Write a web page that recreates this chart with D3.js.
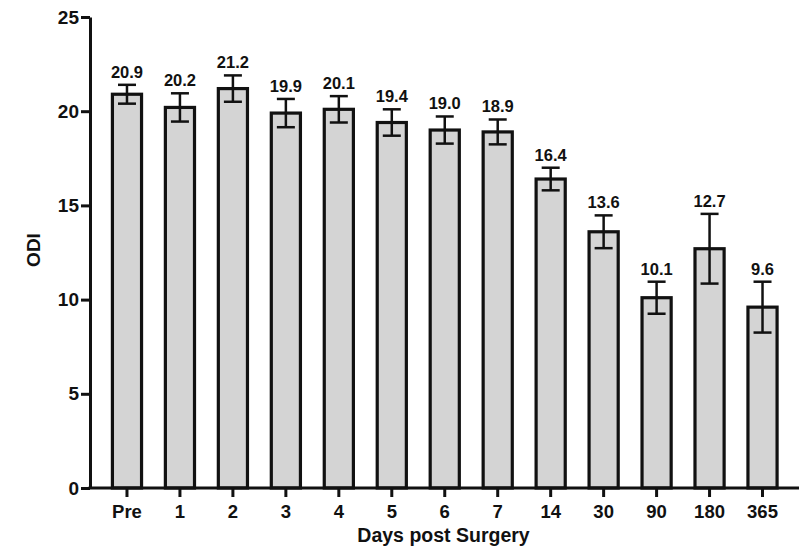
<!DOCTYPE html>
<html>
<head>
<meta charset="utf-8">
<script src="https://cdn.jsdelivr.net/npm/d3@7"></script>
<style>
  body { margin: 0; background: #fff; }
  text { font-family: "Liberation Sans", Arial, sans-serif; font-weight: bold; fill: #111; }
</style>
</head>
<body>
<div id="chart"></div>
<script>
// ODI by day after surgery, mean with error bars
var days = ["Pre", "1", "2", "3", "4", "5", "6", "7", "14", "30", "90", "180", "365"];
var odi = [20.9, 20.2, 21.2, 19.9, 20.1, 19.4, 19.0, 18.9, 16.4, 13.6, 10.1, 12.7, 9.6];
var err = [0.5, 0.75, 0.7, 0.75, 0.7, 0.7, 0.72, 0.66, 0.6, 0.87, 0.85, 1.85, 1.35];
var yTicks = [0, 5, 10, 15, 20, 25];

var svgWidth = 803;
var svgHeight = 553;

var svg = d3.select("#chart")
  .append("svg")
  .attr("width", svgWidth)
  .attr("height", svgHeight);

var data = days.map(function (d, i) {
  return { day: d, val: odi[i], err: err[i] };
});

var xScale = d3.scaleBand()
  .domain(days)
  .range([100.5, 789])
  .paddingInner(0.45)
  .paddingOuter(0.225);

var yScale = d3.scaleLinear()
  .domain([0, 25])
  .range([488, 17]);

// bars
svg.selectAll(".bar")
  .data(data)
  .enter()
  .append("rect")
  .attr("class", "bar")
  .attr("x", d => xScale(d.day))
  .attr("y", d => yScale(d.val))
  .attr("width", xScale.bandwidth())
  .attr("height", d => yScale(0) - yScale(d.val))
  .attr("fill", "#d4d4d4")
  .attr("stroke", "#111")
  .attr("stroke-width", 3.2);

// error bars
var cap = 9;
var eb = svg.selectAll(".err")
  .data(data)
  .enter()
  .append("g")
  .attr("class", "err")
  .attr("stroke", "#111")
  .attr("stroke-width", 2.5);

eb.append("line")
  .attr("x1", d => xScale(d.day) + xScale.bandwidth() / 2)
  .attr("x2", d => xScale(d.day) + xScale.bandwidth() / 2)
  .attr("y1", d => yScale(d.val - d.err))
  .attr("y2", d => yScale(d.val + d.err));
eb.append("line")
  .attr("x1", d => xScale(d.day) + xScale.bandwidth() / 2 - cap)
  .attr("x2", d => xScale(d.day) + xScale.bandwidth() / 2 + cap)
  .attr("y1", d => yScale(d.val + d.err))
  .attr("y2", d => yScale(d.val + d.err));
eb.append("line")
  .attr("x1", d => xScale(d.day) + xScale.bandwidth() / 2 - cap)
  .attr("x2", d => xScale(d.day) + xScale.bandwidth() / 2 + cap)
  .attr("y1", d => yScale(d.val - d.err))
  .attr("y2", d => yScale(d.val - d.err));

// value labels
svg.selectAll(".lbl")
  .data(data)
  .enter()
  .append("text")
  .attr("class", "lbl")
  .attr("x", d => xScale(d.day) + xScale.bandwidth() / 2)
  .attr("y", d => yScale(d.val + d.err) - 7)
  .attr("text-anchor", "middle")
  .attr("font-size", 16.5)
  .text(d => d.val.toFixed(1));

// y axis
var leftAxis = d3.axisLeft(yScale)
  .tickValues(yTicks)
  .tickSize(9)
  .tickSizeOuter(0)
  .tickPadding(2);

var yG = svg.append("g")
  .attr("transform", "translate(90,0)")
  .call(leftAxis);
yG.selectAll("path, line").attr("stroke", "#111").attr("stroke-width", 3);
yG.selectAll("text").attr("font-size", 19).attr("font-family", null).style("fill", "#111");

// x axis
var bottomAxis = d3.axisBottom(xScale)
  .tickSize(9)
  .tickSizeOuter(0)
  .tickPadding(8);

var xG = svg.append("g")
  .attr("transform", "translate(0,488)")
  .call(bottomAxis);
xG.select(".domain").remove();
xG.selectAll("line").attr("stroke", "#111").attr("stroke-width", 3);
xG.selectAll("text").attr("font-size", 18.5).attr("font-family", null).style("fill", "#111");
xG.append("line")
  .attr("x1", 88.5)
  .attr("x2", 799)
  .attr("y1", 0)
  .attr("y2", 0)
  .attr("stroke", "#111")
  .attr("stroke-width", 3);

// axis titles
svg.append("text")
  .attr("transform", "translate(40,250) rotate(-90)")
  .attr("text-anchor", "middle")
  .attr("font-size", 19)
  .text("ODI");

svg.append("text")
  .attr("x", 443.5)
  .attr("y", 542)
  .attr("text-anchor", "middle")
  .attr("font-size", 19.5)
  .text("Days post Surgery");
</script>
</body>
</html>
